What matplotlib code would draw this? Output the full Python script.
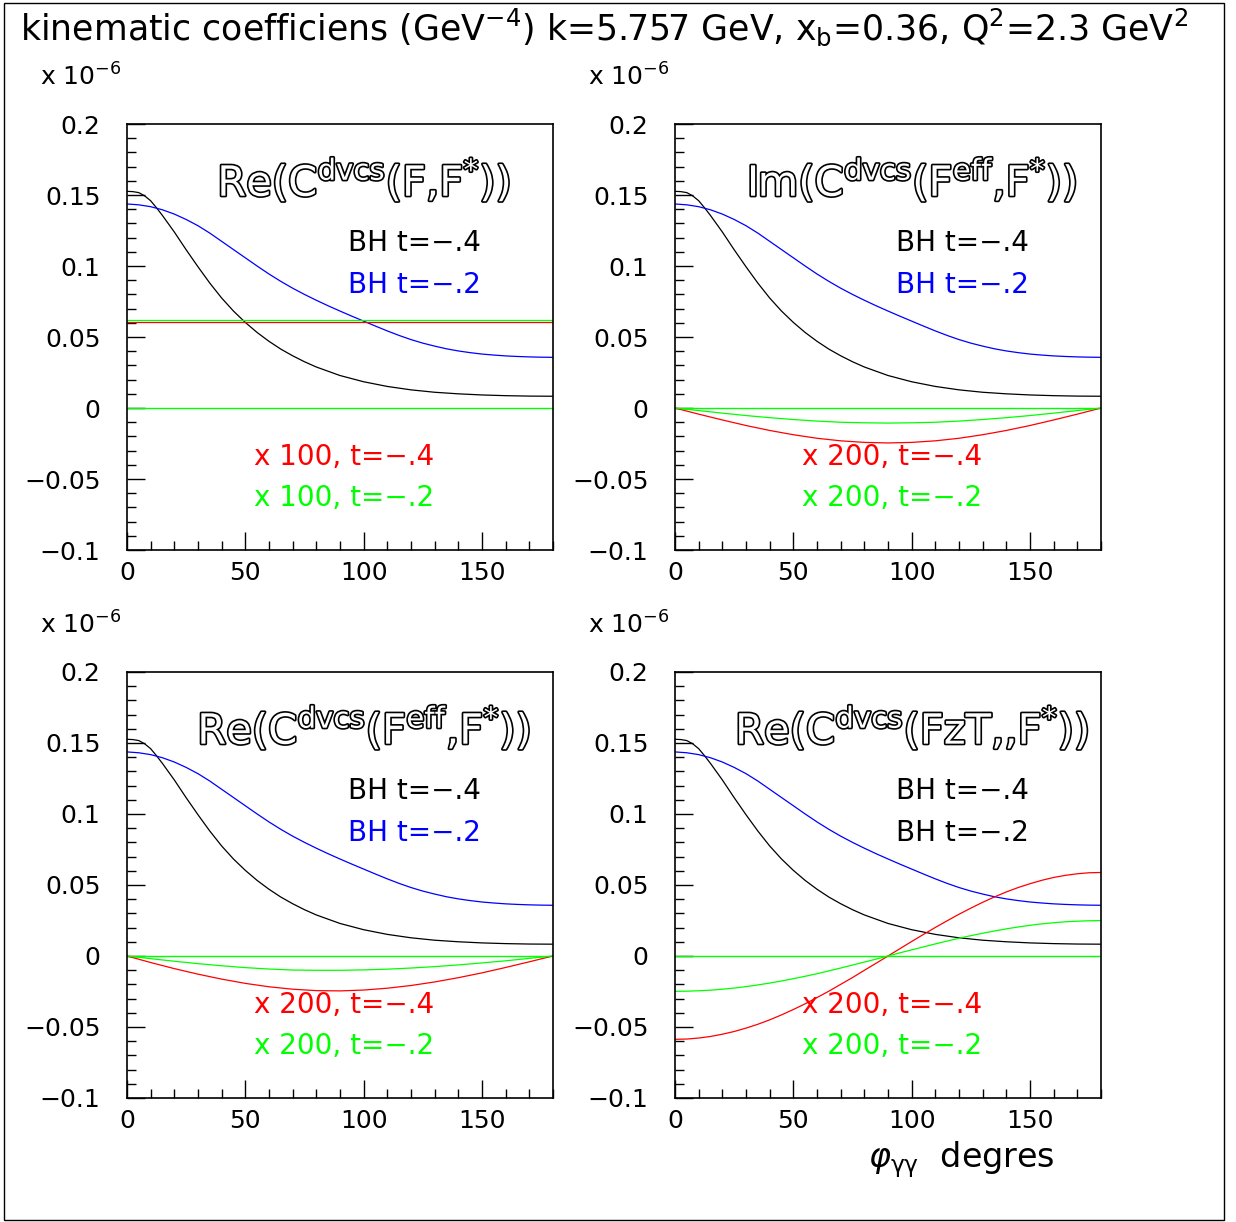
import numpy as np
import matplotlib
matplotlib.use("Agg")
import matplotlib.pyplot as plt
import matplotlib.patheffects as pe
from matplotlib.patches import Rectangle
from matplotlib.ticker import MultipleLocator, FuncFormatter

plt.rcParams["font.family"] = ["DejaVu Sans"]
plt.rcParams["mathtext.default"] = "regular"

# Bethe-Heitler reference curves (same in every panel), units 1e-6 GeV^-4
phi_bh = [0, 2.5, 5, 7.5, 10, 12.5, 15, 20, 25, 30, 35, 40, 45, 50, 55, 60,
          65, 70, 75, 80, 90, 100, 110, 120, 130, 140, 150, 160, 170, 180]
bh_t04 = [0.1526, 0.1524, 0.1517, 0.1494, 0.1460, 0.1410, 0.1356, 0.1240,
          0.1115, 0.0995, 0.0880, 0.0775, 0.0683, 0.0603, 0.0532, 0.0470,
          0.0415, 0.0368, 0.0326, 0.0289, 0.0229, 0.0185, 0.0152, 0.0128,
          0.0111, 0.0100, 0.0092, 0.0087, 0.0084, 0.0083]
phi_bh2 = [0, 5, 10, 15, 20, 25, 30, 35, 40, 45, 50, 55, 60, 65, 70, 75, 80,
           85, 90, 95, 100, 105, 110, 115, 120, 125, 130, 135, 140, 145, 150,
           155, 160, 165, 170, 175, 180]
bh_t02 = [0.1437, 0.1431, 0.1418, 0.1396, 0.1366, 0.1328, 0.1284, 0.1232,
          0.1174, 0.1116, 0.1058, 0.1000, 0.0944, 0.0892, 0.0844, 0.0800,
          0.0759, 0.0720, 0.0683, 0.0647, 0.0612, 0.0577, 0.0543, 0.0511,
          0.0482, 0.0457, 0.0436, 0.0417, 0.0402, 0.0390, 0.0380, 0.0373,
          0.0367, 0.0363, 0.0360, 0.0358, 0.0357]

# scaled DVCS coefficients
phi_const = [0, 180]
re_ff_t04 = [0.0603, 0.0603]
re_ff_t02 = [0.0622, 0.0622]

phi_dvcs = [0, 10, 20, 30, 40, 50, 60, 70, 80, 90, 100, 110, 120, 130, 140,
            150, 160, 170, 180]
im_feff_t04 = [0.0, -0.0043, -0.0084, -0.0123, -0.0158, -0.0188, -0.0213,
               -0.0231, -0.0242, -0.0246, -0.0242, -0.0231, -0.0213, -0.0188,
               -0.0158, -0.0123, -0.0084, -0.0043, 0.0]
im_feff_t02 = [0.0, -0.0018, -0.0036, -0.0053, -0.0068, -0.0081, -0.0092,
               -0.0100, -0.0104, -0.0106, -0.0104, -0.0100, -0.0092, -0.0081,
               -0.0068, -0.0053, -0.0036, -0.0018, 0.0]
re_feff_t04 = [0.0, -0.0046, -0.0089, -0.0128, -0.0163, -0.0193, -0.0217,
               -0.0234, -0.0244, -0.0246, -0.0240, -0.0227, -0.0208, -0.0183,
               -0.0153, -0.0119, -0.0081, -0.0041, 0.0]
re_feff_t02 = [0.0, -0.0019, -0.0037, -0.0054, -0.0069, -0.0082, -0.0092,
               -0.0099, -0.0101, -0.0101, -0.0098, -0.0093, -0.0085, -0.0075,
               -0.0063, -0.0049, -0.0034, -0.0017, 0.0]

phi_fzt = phi_bh2
re_fzt_t04 = [-0.0587, -0.0585, -0.0578, -0.0567, -0.0551, -0.0532, -0.0508,
              -0.0481, -0.0450, -0.0415, -0.0377, -0.0337, -0.0293, -0.0248,
              -0.0200, -0.0152, -0.0101, -0.0051, 0.0, 0.0051, 0.0102,
              0.0152, 0.0201, 0.0248, 0.0294, 0.0337, 0.0378, 0.0416, 0.0451,
              0.0482, 0.0509, 0.0533, 0.0553, 0.0568, 0.0579, 0.0586, 0.0588]
re_fzt_t02 = [-0.0249, -0.0248, -0.0245, -0.0241, -0.0234, -0.0226, -0.0216,
              -0.0204, -0.0191, -0.0176, -0.0160, -0.0143, -0.0125, -0.0105,
              -0.0085, -0.0064, -0.0043, -0.0022, 0.0, 0.0022, 0.0043,
              0.0064, 0.0085, 0.0105, 0.0125, 0.0143, 0.0160, 0.0176, 0.0191,
              0.0204, 0.0216, 0.0226, 0.0234, 0.0241, 0.0245, 0.0248, 0.0249]

panel_labels = [
    r"Re(C$^{dvcs}$(F,F$^{*}$))",
    r"Im(C$^{dvcs}$(F$^{eff}$,F$^{*}$))",
    r"Re(C$^{dvcs}$(F$^{eff}$,F$^{*}$))",
    r"Re(C$^{dvcs}$(FzT,,F$^{*}$))",
]
panel_x = [phi_const, phi_dvcs, phi_dvcs, phi_fzt]
panel_t04 = [re_ff_t04, im_feff_t04, re_feff_t04, re_fzt_t04]
panel_t02 = [re_ff_t02, im_feff_t02, re_feff_t02, re_fzt_t02]
panel_factor = ["100", "200", "200", "200"]
bh2_label_color = ["blue", "blue", "blue", "black"]

title = (r"kinematic coefficiens (GeV$^{-4}$) k=5.757 GeV, x$_{b}$=0.36, "
         r"Q$^{2}$=2.3 GeV$^{2}$")

fig = plt.figure(figsize=(12.36, 12.22), dpi=100)
fig.patches.append(Rectangle((0.0032, 0.0016), 0.9871, 0.9959,
                             transform=fig.transFigure, fill=False,
                             edgecolor="black", linewidth=1.0))

lefts = [0.1027, 0.5461, 0.1027, 0.5461]
bottoms = [0.5499, 0.5499, 0.1015, 0.1015]
fmt = FuncFormatter(lambda v, p: f"{v:g}".replace("-", "\u2212"))
hollow = [pe.withStroke(linewidth=2.4, foreground="black")]

for i in range(4):
    ax = fig.add_axes([lefts[i], bottoms[i], 0.3447, 0.3486])
    ax.axhline(0, color="#00ff00", linewidth=1.0)
    ax.plot(phi_bh, bh_t04, color="black", linewidth=0.9)
    ax.plot(phi_bh2, bh_t02, color="blue", linewidth=0.9)
    ax.plot(panel_x[i], panel_t04[i], color="red", linewidth=0.9)
    ax.plot(panel_x[i], panel_t02[i], color="#00ff00", linewidth=0.9)

    ax.set_xlim(0, 180)
    ax.set_ylim(-0.1, 0.2)
    ax.xaxis.set_major_locator(MultipleLocator(50))
    ax.xaxis.set_minor_locator(MultipleLocator(10))
    ax.yaxis.set_major_locator(MultipleLocator(0.05))
    ax.yaxis.set_minor_locator(MultipleLocator(0.01))
    ax.yaxis.set_major_formatter(fmt)
    ax.xaxis.set_major_formatter(fmt)
    ax.tick_params(which="both", direction="in", top=False, right=False,
                   width=1.0)
    ax.tick_params(axis="y", which="major", length=13, pad=19, labelsize=18)
    ax.tick_params(axis="x", which="major", length=13, pad=8, labelsize=18)
    ax.tick_params(which="minor", length=6.5)
    for s in ax.spines.values():
        s.set_linewidth(1.2)

    ax.text(100, 0.160, panel_labels[i], ha="center", va="center",
            fontsize=30, color="white", path_effects=hollow)
    ax.text(93.5, 0.116, "BH t=\u2212.4", ha="left", va="center",
            fontsize=20, color="black")
    ax.text(93.5, 0.0864, "BH t=\u2212.2", ha="left", va="center",
            fontsize=20, color=bh2_label_color[i])
    ax.text(53.5, -0.0345, f"x {panel_factor[i]}, t=\u2212.4", ha="left",
            va="center", fontsize=20, color="red")
    ax.text(53.5, -0.0636, f"x {panel_factor[i]}, t=\u2212.2", ha="left",
            va="center", fontsize=20, color="#00ff00")
    ax.text(-0.205, 1.11, r"x 10$^{-6}$", transform=ax.transAxes,
            ha="left", va="center", fontsize=18)

fig.text(0.016, 0.978, title, ha="left", va="center", fontsize=25)
fig.text(0.8536, 0.0507, r"$\mathit{\varphi}_{\gamma\gamma}$  degres",
         ha="right", va="center", fontsize=24)

fig.savefig("out.png", dpi=100)
